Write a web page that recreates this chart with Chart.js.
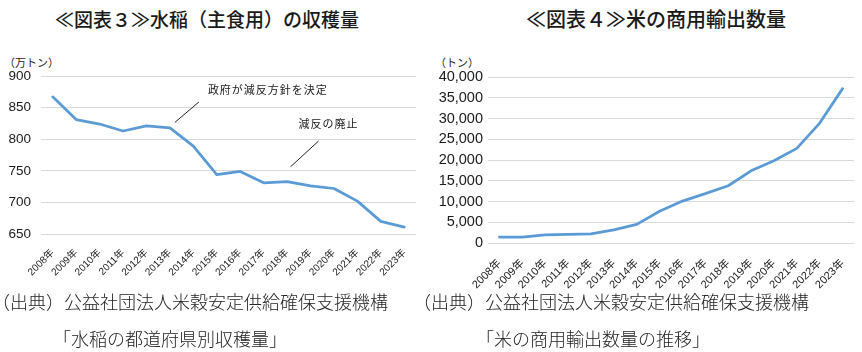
<!DOCTYPE html>
<html lang="ja">
<head>
<meta charset="utf-8">
<script src="https://cdn.jsdelivr.net/npm/chart.js@4.4.1/dist/chart.umd.min.js"></script>
<style>
  html, body { margin: 0; padding: 0; background: #fff; }
  body { width: 862px; height: 352px; position: relative; overflow: hidden;
         font-family: "Noto Sans CJK JP", sans-serif; color: #1a1a1a; }
  .title { position: absolute; top: 8px; line-height: 22px; font-weight: 500;
           white-space: nowrap; transform: translateX(-50%); }
  .unit { position: absolute; top: 56px; font-size: 11px; line-height: 13px; white-space: nowrap; }
  .src { position: absolute; font-size: 18px; line-height: 20px; font-weight: 300;
         color: #222; white-space: nowrap; }
  canvas { position: absolute; top: 0; }
</style>
</head>
<body>

<div class="title" style="left:207px; font-size:19px;">≪図表３≫水稲（主食用）の収穫量</div>
<div class="title" style="left:656px; font-size:20px;">≪図表４≫米の商用輸出数量</div>

<div class="unit" style="left:4px;">（万トン）</div>
<div class="unit" style="left:435px;">（トン）</div>

<canvas id="harvestChart" width="431" height="290" style="left:0;"></canvas>
<canvas id="exportChart" width="431" height="290" style="left:431px;"></canvas>

<div class="src" style="left:-8px; top:291px;">（出典）公益社団法人米穀安定供給確保支援機構</div>
<div class="src" style="left:53px; top:328px;">「水稲の都道府県別収穫量」</div>
<div class="src" style="left:413px; top:291px;">（出典）公益社団法人米穀安定供給確保支援機構</div>
<div class="src" style="left:476px; top:328px;">「米の商用輸出数量の推移」</div>

<script>
// data
const years = ['2008年', '2009年', '2010年', '2011年', '2012年', '2013年', '2014年', '2015年',
               '2016年', '2017年', '2018年', '2019年', '2020年', '2021年', '2022年', '2023年'];
const harvest = [867, 831, 824, 813, 821, 818, 789, 744, 749, 731, 733, 726, 722, 702, 670, 661];
const exports = [1400, 1400, 1950, 2100, 2200, 3150, 4500, 7650, 10100, 11900, 13800, 17400,
                 19800, 22800, 28900, 37200];
const harvestTicks = [650, 700, 750, 800, 850, 900];
const exportTicks = [0, 5000, 10000, 15000, 20000, 25000, 30000, 35000, 40000];

// annotation callouts, in category-index / value units
const harvestNotes = [
  { text: '政府が減反方針を決定', from: [5.21, 826.5], to: [6.24, 859], at: [6.62, 878.5] },
  { text: '減反の廃止', from: [10.15, 756.5], to: [11.34, 797], at: [10.49, 823.8] }
];

const LINE_BLUE = '#5b9bd5';
const GRID = '#d9d9d9';
const TEXT = '#1a1a1a';

const notePlugin = {
  id: 'notes',
  afterDatasetsDraw(chart, args, opts) {
    const items = opts.items || [];
    if (!items.length) return;
    const { ctx, scales: { x, y } } = chart;
    ctx.save();
    items.forEach(n => {
      ctx.strokeStyle = '#222';
      ctx.lineWidth = 1;
      ctx.beginPath();
      ctx.moveTo(x.getPixelForValue(n.from[0]), y.getPixelForValue(n.from[1]));
      ctx.lineTo(x.getPixelForValue(n.to[0]), y.getPixelForValue(n.to[1]));
      ctx.stroke();
      ctx.fillStyle = TEXT;
      ctx.font = '11px "Noto Sans CJK JP"';
      ctx.letterSpacing = '1px';
      ctx.textBaseline = 'middle';
      ctx.textAlign = 'left';
      ctx.fillText(n.text, x.getPixelForValue(n.at[0]), y.getPixelForValue(n.at[1]));
    });
    ctx.restore();
  }
};

function makeChart(id, values, ticks, cfg) {
  return new Chart(document.getElementById(id), {
    type: 'line',
    data: {
      labels: years,
      datasets: [{
        data: values,
        borderColor: LINE_BLUE,
        borderWidth: 2.75,
        pointRadius: 0,
        tension: 0,
        borderJoinStyle: 'round',
        borderCapStyle: 'round',
        clip: false
      }]
    },
    options: {
      responsive: false,
      animation: false,
      layout: { padding: cfg.padding },
      plugins: {
        legend: { display: false },
        tooltip: { enabled: false },
        notes: { items: cfg.notes || [] }
      },
      scales: {
        x: {
          offset: true,
          grid: { display: false },
          border: { display: false },
          afterFit: s => { s.height = cfg.xHeight; },
          ticks: {
            autoSkip: false, minRotation: 45, maxRotation: 45,
            padding: cfg.xPad, color: TEXT,
            font: { family: 'Liberation Sans, "Noto Sans CJK JP"', size: cfg.xFont }
          }
        },
        y: {
          min: ticks[0],
          max: ticks[ticks.length - 1],
          grid: { color: GRID, lineWidth: 1, drawTicks: false },
          border: { display: false },
          afterFit: s => { s.width = cfg.yWidth; },
          afterBuildTicks: s => { s.ticks = ticks.map(v => ({ value: v })); },
          ticks: {
            padding: cfg.yPad, color: TEXT,
            font: { family: 'Liberation Sans', size: cfg.yFont },
            callback: v => v.toLocaleString('en-US')
          }
        }
      }
    },
    plugins: [notePlugin]
  });
}

makeChart('harvestChart', harvest, harvestTicks, {
  padding: { top: 76, right: 15, left: 0, bottom: 0 },
  yWidth: 41, xHeight: 56, xPad: 5, yPad: 10, xFont: 10, yFont: 13.5,
  notes: harvestNotes
});

makeChart('exportChart', exports, exportTicks, {
  padding: { top: 77, right: 8, left: 0, bottom: 0 },
  yWidth: 57, xHeight: 47, xPad: 6, yPad: 5, xFont: 11, yFont: 14.5
});
</script>
</body>
</html>
